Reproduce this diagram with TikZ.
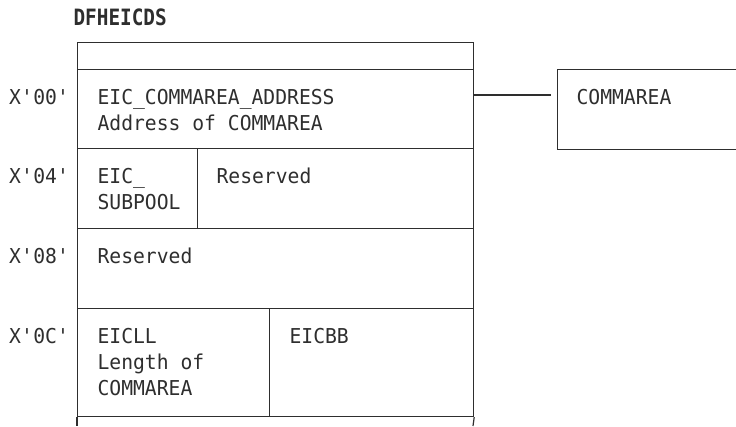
\documentclass[tikz,border=0pt]{standalone}
\usepackage{fontspec}
\newfontfamily\monofont{DejaVu Sans Mono}[FakeStretch=0.96]
\newfontfamily\headfont{DejaVu Sans Mono}[FakeStretch=0.86]
\usetikzlibrary{positioning}

% offset label, e.g. X'04'
\newcommand{\hexoff}[1]{X\textquotesingle#1\textquotesingle}

\begin{document}
\begin{tikzpicture}[x=1pt, y=-1pt, line width=1.2pt, black!82,
	cell/.style = {draw, rectangle, inner sep=0pt, anchor=north west,
		minimum width=#1},
	field/.style = {inner sep=0pt, anchor=north west, align=left,
		font=\monofont\fontsize{20.5}{26}\selectfont},
	offset/.style = {inner sep=0pt, anchor=north east,
		font=\monofont\fontsize{20.5}{26}\selectfont}]
	\useasboundingbox (0,0) rectangle (736,426);
	\clip (0,0) rectangle (736,426);

	\node [anchor=north west, inner sep=0pt,
		font=\headfont\bfseries\fontsize{22.5}{26}\selectfont] (title) at (73,8) {DFHEICDS};

	% control block rows
	\node [cell=396pt, minimum height=27pt] (head) at (77,42) {};
	\node [cell=396pt, minimum height=79pt] (r00) at (77,69) {};
	\node [cell=120pt, minimum height=80pt] (r04a) at (77,148) {};
	\node [cell=276pt, minimum height=80pt] (r04b) at (197,148) {};
	\node [cell=396pt, minimum height=80pt] (r08) at (77,228) {};
	\node [cell=192pt, minimum height=108pt] (r0Ca) at (77,308) {};
	\node [cell=204pt, minimum height=108pt] (r0Cb) at (269,308) {};

	% the block goes on below
	\coordinate (moreL) at (77,426);
	\coordinate (moreR) at (473,426);
	\draw (r0Ca.south west) -- (moreL);
	\draw (r0Cb.south east) -- (moreR);

	% field texts
	\node [field] (addr) at ([shift={(20,19.5)}]r00.north west)
		{EIC\_COMMAREA\_ADDRESS\\Address of COMMAREA};
	\node [field] (pool) at ([shift={(20,19.5)}]r04a.north west) {EIC\_\\SUBPOOL};
	\node [field] (res1) at ([shift={(19,19.5)}]r04b.north west) {Reserved};
	\node [field] (res2) at ([shift={(20,19.5)}]r08.north west) {Reserved};
	\node [field] (len) at ([shift={(20,19.5)}]r0Ca.north west)
		{EICLL\\Length of\\COMMAREA};
	\node [field] (bb) at ([shift={(20,19.5)}]r0Cb.north west) {EICBB};

	% offsets
	\node [offset] (o00) at ([shift={(-7,19.5)}]r00.north west) {\hexoff{00}};
	\node [offset] (o04) at ([shift={(-7,19.5)}]r04a.north west) {\hexoff{04}};
	\node [offset] (o08) at ([shift={(-7,19.5)}]r08.north west) {\hexoff{08}};
	\node [offset] (o0C) at ([shift={(-7,19.5)}]r0Ca.north west) {\hexoff{0C}};

	% commarea
	\node [cell=200pt, minimum height=80pt] (comm) at (557,69) {};
	\node [field] (commtxt) at ([shift={(19,19.5)}]comm.north west) {COMMAREA};
	\draw [shorten >=6pt] ([yshift=-26pt]r00.north east) -- ([yshift=-26pt]comm.north west);
\end{tikzpicture}
\end{document}
